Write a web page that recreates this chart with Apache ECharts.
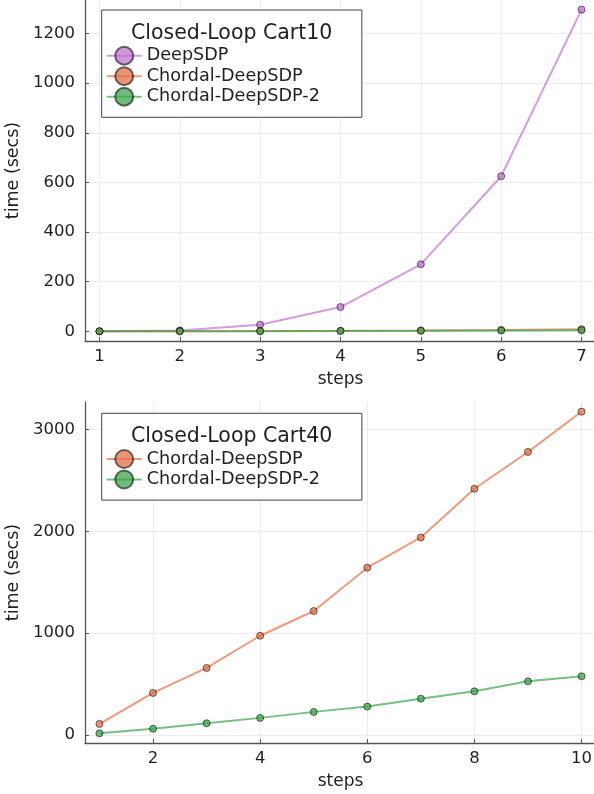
<!DOCTYPE html>
<html>
<head>
<meta charset="utf-8">
<script src="https://cdn.jsdelivr.net/npm/echarts@6/dist/echarts.min.js"></script>
<style>html,body{margin:0;padding:0;background:#fff;}#c{width:594px;height:794px;}</style>
</head>
<body>
<div id="c"></div>
<script>
// ---- data ----
const steps10 = [1, 2, 3, 4, 5, 6, 7];
const cart10DeepSDP = [0.5, 4, 27, 98, 270, 625, 1296];
const cart10Chordal = [0.3, 0.8, 1.5, 2.5, 4, 6, 9];
const cart10Chordal2 = [0.2, 0.5, 0.9, 1.5, 2.2, 3.2, 4.5];

const steps40 = [1, 2, 3, 4, 5, 6, 7, 8, 9, 10];
const cart40Chordal = [108, 412, 658, 974, 1217, 1643, 1940, 2418, 2780, 3176];
const cart40Chordal2 = [15, 60, 114, 167, 226, 278, 356, 428, 526, 576];

const xTicks10 = [1, 2, 3, 4, 5, 6, 7];
const yTicks10 = [0, 200, 400, 600, 800, 1000, 1200];
const xTicks40 = [2, 4, 6, 8, 10];
const yTicks40 = [0, 1000, 2000, 3000];

const title10 = 'Closed-Loop Cart10';
const title40 = 'Closed-Loop Cart40';

// ---- helpers ----
const FONT = 'DejaVu Sans';
const TXT = '#1f1f1f';
const COLORS = { DeepSDP: '#c271d2', 'Chordal-DeepSDP': '#e36f47', 'Chordal-DeepSDP-2': '#3da44d' };
function pairs(xs, ys) { return xs.map((x, i) => [x, ys[i]]); }
function widen(arrs) {
  const all = [].concat(...arrs);
  const lo = Math.min(...all), hi = Math.max(...all);
  const m = 0.03 * (hi - lo);
  return [lo - m, hi + m];
}
function fmt(v) { return String(Math.round(v)); }
function series(name, xs, ys, gi) {
  return {
    type: 'line', name: name, xAxisIndex: gi, yAxisIndex: gi,
    data: pairs(xs, ys),
    symbol: 'circle', symbolSize: 7,
    lineStyle: { color: COLORS[name], width: 2, opacity: 0.7 },
    itemStyle: { color: COLORS[name], opacity: 0.75, borderColor: 'rgba(0,0,0,0.75)', borderWidth: 1 },
    emphasis: { disabled: true }
  };
}
function xAxis(gi, range, ticks) {
  return {
    type: 'value', gridIndex: gi, min: range[0], max: range[1],
    name: 'steps', nameLocation: 'middle', nameGap: 30,
    nameTextStyle: { fontFamily: FONT, fontSize: 17, color: TXT },
    axisLine: { onZero: false, lineStyle: { color: '#555', width: 1.3 } },
    axisTick: { inside: true, length: 4, customValues: ticks, lineStyle: { color: '#555' } },
    axisLabel: { customValues: ticks, formatter: fmt, margin: 7, fontFamily: FONT, fontSize: 16.5, color: TXT },
    splitLine: { show: true, lineStyle: { color: '#ececec', width: 1 } }
  };
}
function yAxis(gi, range, ticks) {
  return {
    type: 'value', gridIndex: gi, min: range[0], max: range[1],
    name: 'time (secs)', nameLocation: 'middle', nameGap: 54,
    nameTextStyle: { fontFamily: FONT, fontSize: 17.5, color: TXT },
    axisLine: { show: true, onZero: false, lineStyle: { color: '#555', width: 1.3 } },
    axisTick: { show: true, inside: true, length: 4, customValues: ticks, lineStyle: { color: '#555' } },
    axisLabel: { customValues: ticks, formatter: fmt, margin: 10, fontFamily: FONT, fontSize: 16.5, color: TXT },
    splitLine: { show: true, lineStyle: { color: '#ececec', width: 1 } }
  };
}
function legend(names, top) {
  return {
    data: names, orient: 'vertical', left: 101.7, top: top,
    padding: [35.7, 42, 10.6, 4],
    itemWidth: 35, itemHeight: 22.5, itemGap: 0.5,
    backgroundColor: '#fff', borderColor: '#444', borderWidth: 1,
    selectedMode: false,
    textStyle: { fontFamily: FONT, fontSize: 17.6, color: TXT }
  };
}
function legendTitle(text, y) {
  return {
    type: 'text', x: 231.7, y: y, z: 100,
    style: { text: text, fontFamily: FONT, fontSize: 20.5, fill: TXT,
      align: 'center', verticalAlign: 'middle', textAlign: 'center', textVerticalAlign: 'middle' }
  };
}

const chart = echarts.init(document.getElementById('c'));
chart.setOption({
  animation: false,
  backgroundColor: '#fff',
  grid: [
    { left: 85, right: -2, top: 0, height: 341, containLabel: false, outerBoundsMode: 'none' },
    { left: 85, right: -2, top: 402, height: 341, containLabel: false, outerBoundsMode: 'none' }
  ],
  xAxis: [
    xAxis(0, widen([steps10]), xTicks10),
    xAxis(1, widen([steps40]), xTicks40)
  ],
  yAxis: [
    yAxis(0, widen([cart10DeepSDP, cart10Chordal, cart10Chordal2]), yTicks10),
    yAxis(1, widen([cart40Chordal, cart40Chordal2]), yTicks40)
  ],
  legend: [
    legend(['DeepSDP', 'Chordal-DeepSDP', 'Chordal-DeepSDP-2'], 10),
    legend(['Chordal-DeepSDP', 'Chordal-DeepSDP-2'], 413.3)
  ],
  graphic: [legendTitle(title10, 33.3), legendTitle(title40, 436.7)],
  series: [
    series('DeepSDP', steps10, cart10DeepSDP, 0),
    series('Chordal-DeepSDP', steps10, cart10Chordal, 0),
    series('Chordal-DeepSDP-2', steps10, cart10Chordal2, 0),
    series('Chordal-DeepSDP', steps40, cart40Chordal, 1),
    series('Chordal-DeepSDP-2', steps40, cart40Chordal2, 1)
  ]
});
</script>
</body>
</html>
